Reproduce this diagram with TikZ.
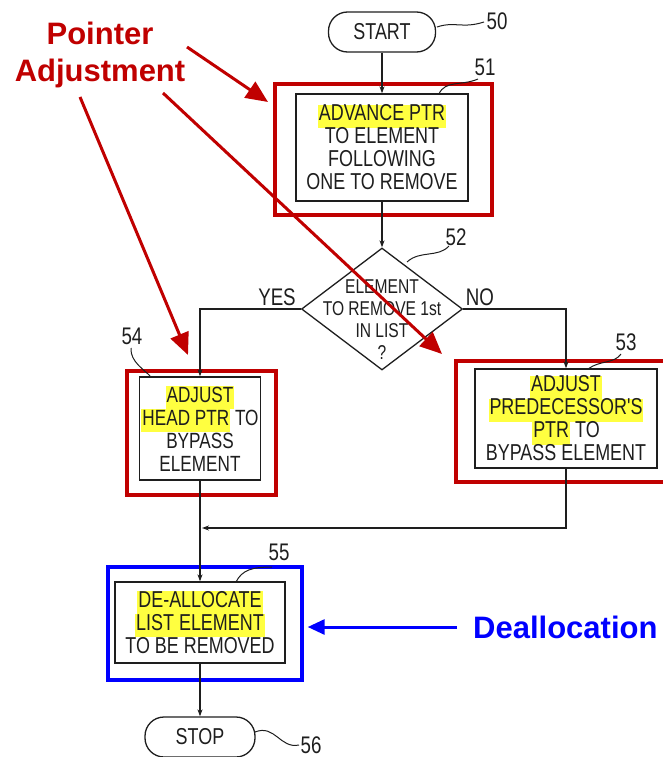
\documentclass[tikz,border=0pt]{standalone}
\usepackage{fontspec}
\setmainfont{Liberation Sans}
\newfontfamily\pat[FakeStretch=0.78]{Liberation Sans}
\usetikzlibrary{arrows.meta,shapes.geometric}
\definecolor{myred}{RGB}{192,0,0}
\definecolor{myblue}{RGB}{0,0,255}
\definecolor{hly}{RGB}{255,255,64}
\definecolor{ink}{RGB}{30,30,30}
\newcommand{\hlt}[1]{{\setlength{\fboxsep}{0pt}\colorbox{hly}{\strut\kern1pt #1\kern1pt}}}
\begin{document}
\begin{tikzpicture}[x=1pt,y=-1pt,
  box/.style={draw=ink, line width=1.3pt, inner sep=0pt, align=center, text=ink,
    font=\pat\fontsize{23}{23}\selectfont},
  term/.style={draw=ink, line width=1.3pt, rounded corners=19pt, inner sep=0pt, text=ink,
    font=\pat\fontsize{23}{23}\selectfont},
  redframe/.style={draw=myred, line width=3.4pt, inner sep=0pt},
  blueframe/.style={draw=myblue, line width=3.4pt, inner sep=0pt},
  flow/.style={draw=ink, line width=1.2pt, -{Stealth[length=7pt,width=5pt]}},
  lead/.style={draw=ink, line width=1pt},
  num/.style={text=ink, inner sep=0pt, font=\pat\fontsize{24}{24}\selectfont},
  redarr/.style={draw=myred, line width=3pt, -{Triangle[length=22pt,width=19pt]}},
  bluearr/.style={draw=myblue, line width=3pt, -{Triangle[length=17pt,width=15pt]}},
  callout/.style={font=\bfseries\fontsize{31}{37}\selectfont, inner sep=0pt, align=center}
]
\useasboundingbox (0,0) rectangle (663,757);

% terminals
\node[term, minimum width=107pt, minimum height=40pt] (start) at (382,32) {START};
\node[term, minimum width=110pt, minimum height=40pt] (stop) at (200,737) {STOP};

% frames
\node[redframe, minimum width=217pt, minimum height=131pt] (r51) at (383.5,149.5) {};
\node[redframe, minimum width=149pt, minimum height=124pt] (r54) at (201.5,433) {};
\node[redframe, minimum width=212pt, minimum height=121pt] (r53) at (562,421.5) {};
\node[blueframe, minimum width=194pt, minimum height=113pt] (r55) at (205,623.5) {};

% process boxes
\node[box, minimum width=172pt, minimum height=107pt] (b51) at (382,147.5)
  {\hlt{ADVANCE PTR}\\TO ELEMENT\\FOLLOWING\\ONE TO REMOVE};
\node[box, minimum width=121pt, minimum height=103pt, font=\pat\fontsize{22}{23}\selectfont] (b54) at (200,428.5)
  {\hlt{ADJUST}\\\hlt{HEAD PTR} TO\\BYPASS\\ELEMENT};
\node[box, minimum width=182pt, minimum height=99pt] (b53) at (566,418.5)
  {\hlt{ADJUST}\\\hlt{PREDECESSOR'S}\\\hlt{PTR} TO\\BYPASS ELEMENT};
\node[box, minimum width=170pt, minimum height=81pt] (b55) at (200,622.5)
  {\hlt{DE-ALLOCATE}\\\hlt{LIST ELEMENT}\\TO BE REMOVED};

% decision
\node[diamond, draw=ink, line width=1.3pt, minimum width=161pt, minimum height=122pt, inner sep=0pt] (d52) at (382,309) {};
\node[text=ink, inner sep=0pt, align=center, font=\pat\fontsize{20}{22}\selectfont] (t52) at (382,320)
  {ELEMENT\\TO REMOVE 1st\\IN LIST\\?};

% branch labels
\node[num] (yes) at (277,297) {YES};
\node[num] (no) at (480,297) {NO};

% reference numbers
\node[num] (n50) at (497,21) {50};
\node[num] (n51) at (485,67) {51};
\node[num] (n52) at (456,237) {52};
\node[num] (n54) at (132,336) {54};
\node[num] (n53) at (626,342) {53};
\node[num] (n55) at (279,552) {55};
\node[num] (n56) at (311,745) {56};

% flow connectors
\coordinate (j) at (202,528);
\draw[flow] (start) -- (b51);
\draw[flow] (b51) -- (d52);
\draw[flow] (d52.west) -| (b54.north);
\draw[flow] (d52.east) -| (b53.north);
\draw[flow] (b53.south) |- (j);
\draw[flow] (b54) -- (b55);
\draw[flow] (b55) -- (stop);

% leader lines
\draw[lead] (437,27) .. controls (455,21) and (462,29) .. (484,22);
\draw[lead] (439,94) .. controls (445,80) and (462,86) .. (478,79);
\draw[lead] (407,262) .. controls (420,250) and (438,258) .. (449,246);
\draw[lead] (131,348) .. controls (130,362) and (145,370) .. (151,377);
\draw[lead] (621,354) .. controls (614,364) and (600,360) .. (588,369);
\draw[lead] (236,582) .. controls (242,570) and (252,567) .. (272,567);
\draw[lead] (255,732) .. controls (275,724) and (280,749) .. (299,745);

% callouts
\node[callout, text=myred] (pa) at (100,55) {Pointer\\Adjustment};
\node[callout, text=myblue, anchor=west] (dl) at (473,627) {Deallocation};

\coordinate (pa1) at (187,47);
\coordinate (pa2) at (163,93);
\coordinate (pa3) at (80,97);
\coordinate (t1) at (268,102);
\coordinate (t2) at (442,354);
\coordinate (t3) at (188,355);
\draw[redarr] (pa1) -- (t1);
\draw[redarr] (pa2) -- (t2);
\draw[redarr] (pa3) -- (t3);
\draw[bluearr, shorten <=16pt, shorten >=4pt] (dl.west) -- (dl.west -| r55.east);
\end{tikzpicture}
\end{document}
